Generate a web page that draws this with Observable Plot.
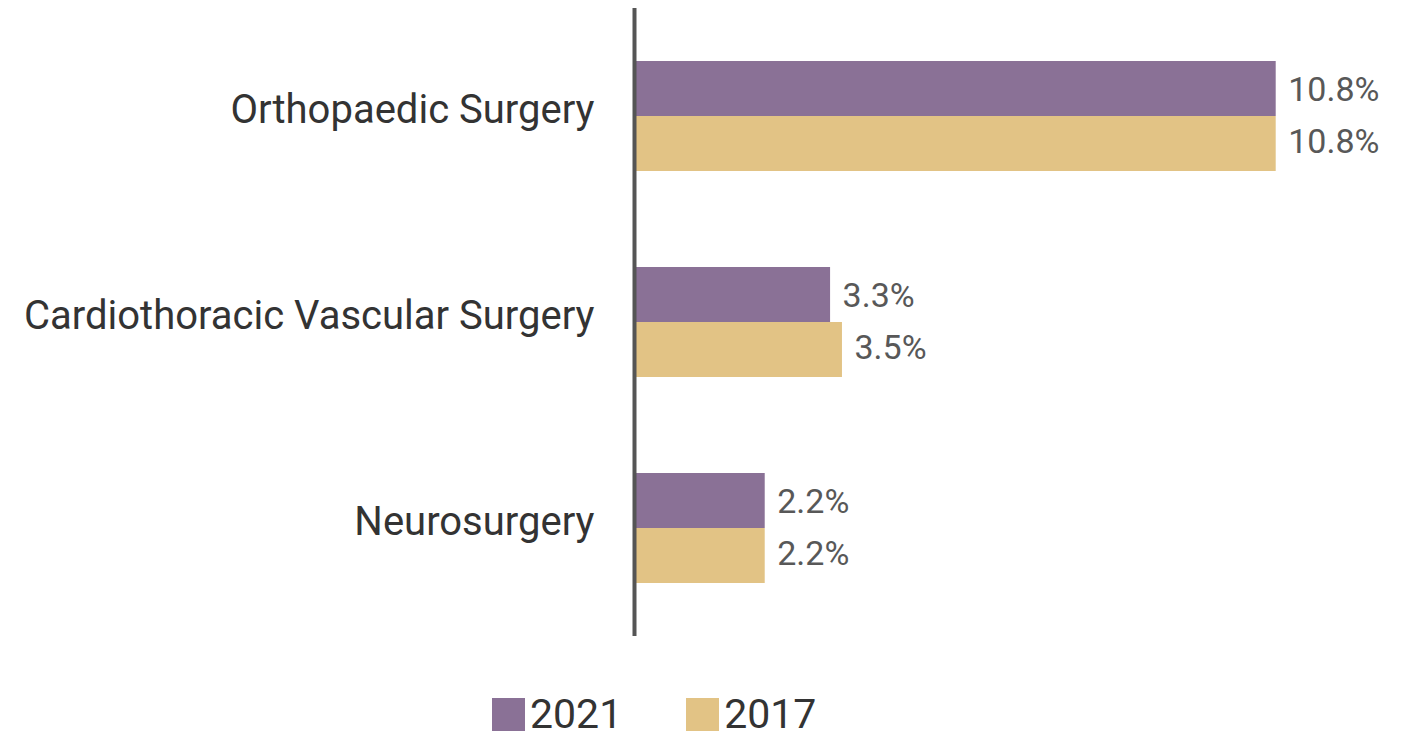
<!DOCTYPE html>
<html>
<head>
<meta charset="utf-8">
<script src="https://cdn.jsdelivr.net/npm/d3@7"></script>
<script src="https://cdn.jsdelivr.net/npm/@observablehq/plot@0.6"></script>
<style>
  body { margin: 0; background: #fff; font-family: Roboto, "Noto Sans", sans-serif; position: relative; width: 1409px; height: 739px; overflow: hidden; }
  #legend { position: absolute; left: 492px; top: 694px; height: 41px; display: flex; font-size: 41px; line-height: 1; color: #333; }
  .item { display: flex; align-items: center; }
  .item + .item { margin-left: 64px; }
  .sw { width: 33px; height: 33px; margin-right: 5px; }
</style>
</head>
<body>
<div id="chart"></div>
<div id="legend"></div>
<script>
const categories = ["Orthopaedic Surgery", "Cardiothoracic Vascular Surgery", "Neurosurgery"];
const values2021 = [10.8, 3.3, 2.2];
const values2017 = [10.8, 3.5, 2.2];
const years = ["2021", "2017"];
const colors = ["#8a7196", "#e2c385"];

const d2021 = categories.map((c, i) => ({category: c, value: values2021[i]}));
const d2017 = categories.map((c, i) => ({category: c, value: values2017[i]}));

const chart = Plot.plot({
  width: 1409,
  height: 650,
  marginLeft: 634,
  marginRight: 62,
  marginTop: 8,
  marginBottom: 14,
  style: {fontFamily: "Roboto, sans-serif", background: "#fff"},
  x: {domain: [0, 12], axis: null},
  y: {domain: categories, paddingInner: 0.466, paddingOuter: 0.257, axis: null},
  marks: [
    Plot.barX(d2021, {x: "value", y: "category", fill: colors[0], insetBottom: 55}),
    Plot.barX(d2017, {x: "value", y: "category", fill: colors[1], insetTop: 55}),
    Plot.text(d2021, {x: "value", y: "category", text: d => d.value.toFixed(1) + "%", dx: 12, dy: -26, textAnchor: "start", fontSize: 34, fill: "#585858"}),
    Plot.text(d2017, {x: "value", y: "category", text: d => d.value.toFixed(1) + "%", dx: 12, dy: 26, textAnchor: "start", fontSize: 34, fill: "#585858"}),
    Plot.axisY({tickSize: 0, tickPadding: 40, fontSize: 40, fill: "#333", label: null, dy: -6}),
    Plot.ruleX([0], {stroke: "#555", strokeWidth: 4})
  ]
});
document.getElementById("chart").appendChild(chart);

const legend = document.getElementById("legend");
years.forEach((y, i) => {
  const it = document.createElement("div");
  it.className = "item";
  it.innerHTML = `<div class="sw" style="background:${colors[i]}"></div><span>${y}</span>`;
  legend.appendChild(it);
});
</script>
</body>
</html>
